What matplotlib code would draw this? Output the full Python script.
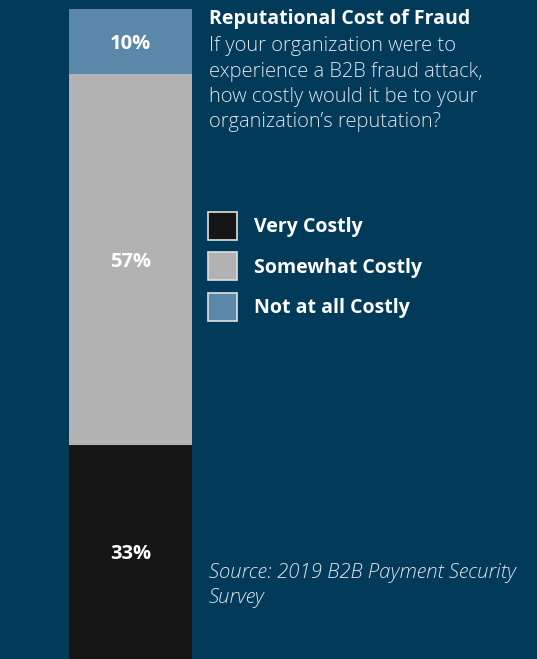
import matplotlib.pyplot as plt

categories = ['Very Costly', 'Somewhat Costly', 'Not at all Costly']
shares = [33, 57, 10]
colors = ['#151515', '#b2b2b2', '#5b88a8']

title = 'Reputational Cost of Fraud'
question = ['If your organization were to',
            'experience a B2B fraud attack,',
            'how costly would it be to your',
            'organization\u2019s reputation?']
source = ['Source: 2019 B2B Payment Security', 'Survey']

bg = '#023a5a'
W, H = 537, 659

plt.rcParams['font.family'] = ['Open Sans', 'DejaVu Sans']

fig = plt.figure(figsize=(W / 100, H / 100), dpi=100, facecolor=bg)


def fx(px):
    return px / W


def fy(py):
    return 1 - py / H


# single stacked bar on the left
ax = fig.add_axes([fx(69), 0, fx(192) - fx(69), fy(9)])
ax.set_facecolor(bg)
bottom = 0
bars = []
for cat, val, col in zip(categories, shares, colors):
    b = ax.bar(0, val, bottom=bottom, width=1, color=col, label=cat)
    bars.append(b)
    ax.text(0, bottom + val / 2, f'{val}%', ha='center',
            va='center_baseline', color='white', fontsize=14.5,
            fontweight='bold')
    bottom += val
ax.set_xlim(-0.5, 0.5)
ax.set_ylim(0, sum(shares))
ax.axis('off')

# heading and question
fig.text(fx(209), fy(24), title, color='white', fontsize=14,
         fontweight='bold', va='baseline', ha='left')
for i, line in enumerate(question):
    fig.text(fx(209), fy(51 + i * 25.5), line, color='#dfe6ec',
             fontsize=14.5, fontweight='light', va='baseline', ha='left')

for i, line in enumerate(source):
    fig.text(fx(209), fy(578 + i * 25.5), line, color='#dfe6ec',
             fontsize=14.7, fontstyle='italic', fontweight='light',
             va='baseline', ha='left')

leg = fig.legend(handles=[b[0] for b in bars], labels=categories,
                 loc='upper left', bbox_to_anchor=(fx(200), fy(204)),
                 frameon=False, fontsize=14, handlelength=1.5,
                 handleheight=1.84, handletextpad=0.87, labelspacing=0.65,
                 borderaxespad=0)
for h in leg.legend_handles:
    h.set_edgecolor('#e0e0e0')
    h.set_linewidth(1.2)
for t in leg.get_texts():
    t.set_color('white')
    t.set_fontweight('bold')

fig.savefig('out.png', dpi=100, facecolor=bg)
